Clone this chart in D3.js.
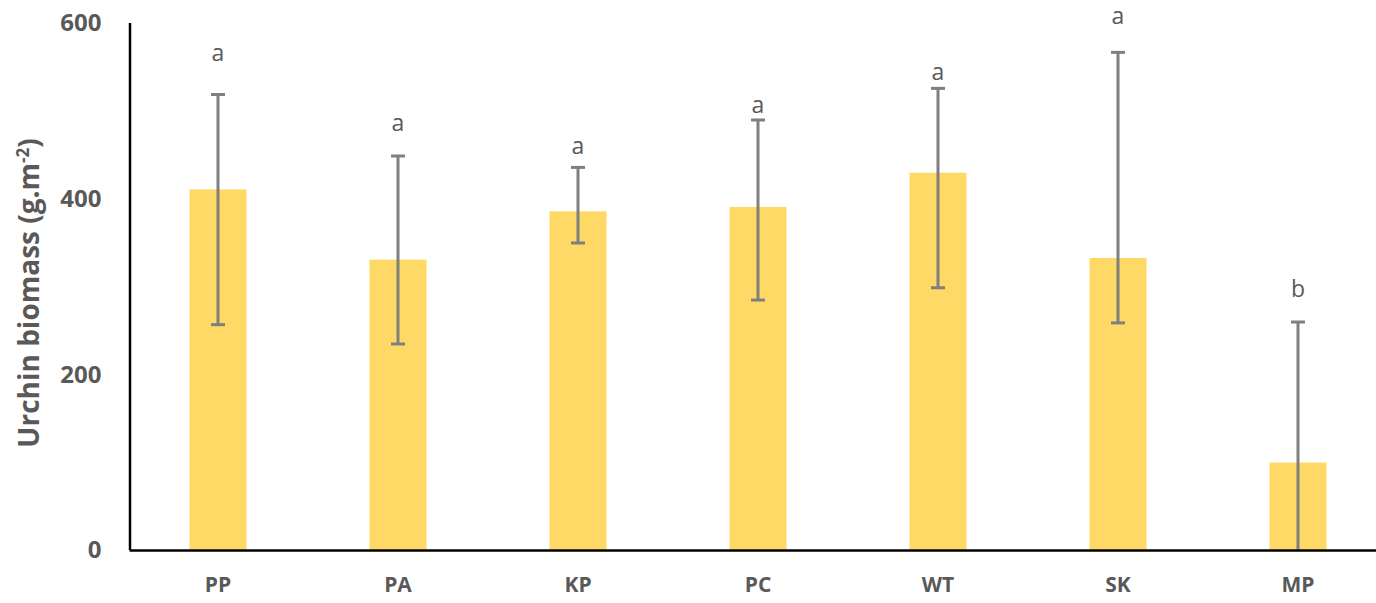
<!DOCTYPE html>
<html>
<head>
<meta charset="utf-8">
<script src="https://cdn.jsdelivr.net/npm/d3@7"></script>
<style>
  html, body { margin: 0; padding: 0; background: #fff; }
  svg { display: block; }
</style>
</head>
<body>
<svg id="chart" width="1376" height="603"></svg>
<script>
// Urchin biomass by site, mean with error range and significance groups
const sites = ["PP", "PA", "KP", "PC", "WT", "SK", "MP"];
const biomass = [410, 330, 385, 390, 429, 332, 99];
const errLow = [256, 234, 349, 284, 298, 258, 0];
const errHigh = [518, 448, 435, 489, 525, 566, 259];
const groupLetters = ["a", "a", "a", "a", "a", "a", "b"];
const letterAt = [556, 476, 450, 497, 535, 598, 287];
const yTicks = [0, 200, 400, 600];

const svg = d3.select("#chart");
const plotLeft = 129.5, plotRight = 1388, plotTop = 22.5, plotBottom = 549.5;

const x = d3.scaleBand().domain(sites).range([128, 1388]).paddingInner(0.683).paddingOuter(0.3415);
const y = d3.scaleLinear().domain([0, 600]).range([plotBottom, plotTop]);

const textGrey = "#595959";
const font = "'Open Sans', 'Liberation Sans', sans-serif";

// bars
svg.append("g").selectAll("rect").data(sites).join("rect")
  .attr("x", d => x(d))
  .attr("width", x.bandwidth())
  .attr("y", (d, i) => y(biomass[i]))
  .attr("height", (d, i) => y(0) - y(biomass[i]))
  .attr("fill", "#FFD966");

// error bars
const eg = svg.append("g").attr("stroke", "#7f7f7f").attr("stroke-width", 3);
sites.forEach((s, i) => {
  const cx = x(s) + x.bandwidth() / 2;
  eg.append("line").attr("x1", cx).attr("x2", cx).attr("y1", y(errHigh[i])).attr("y2", y(errLow[i]));
  eg.append("line").attr("x1", cx - 7).attr("x2", cx + 7).attr("y1", y(errHigh[i])).attr("y2", y(errHigh[i]));
  if (errLow[i] > 0) {
    eg.append("line").attr("x1", cx - 7).attr("x2", cx + 7).attr("y1", y(errLow[i])).attr("y2", y(errLow[i]));
  }
});

// significance letters
svg.append("g").selectAll("text").data(sites).join("text")
  .attr("x", d => x(d) + x.bandwidth() / 2)
  .attr("y", (d, i) => y(letterAt[i]))
  .attr("text-anchor", "middle")
  .attr("font-family", font)
  .attr("font-size", 23)
  .attr("fill", textGrey)
  .text((d, i) => groupLetters[i]);

// y axis
const yAxis = svg.append("g").attr("transform", `translate(${plotLeft},0)`)
  .call(d3.axisLeft(y).tickValues(yTicks).tickSize(0).tickPadding(28));
yAxis.select(".domain").attr("stroke", "#000").attr("stroke-width", 2.5);
yAxis.selectAll("text")
  .attr("font-family", font).attr("font-size", 24).attr("font-weight", "bold")
  .attr("fill", textGrey).attr("dy", "0.34em");

// x axis
const xAxis = svg.append("g").attr("transform", `translate(0,${plotBottom + 1})`)
  .call(d3.axisBottom(x).tickSize(0).tickPadding(27));
xAxis.select(".domain").attr("stroke", "#000").attr("stroke-width", 2.5)
  .attr("d", `M${plotLeft},0H${plotRight}`);
xAxis.selectAll("text")
  .attr("font-family", font).attr("font-size", 21).attr("font-weight", "bold")
  .attr("fill", textGrey);

// y axis title
const title = svg.append("text")
  .attr("transform", `translate(39,${(138 + 448) / 2}) rotate(-90)`)
  .attr("text-anchor", "middle")
  .attr("font-family", font).attr("font-size", 28).attr("font-weight", "bold")
  .attr("fill", textGrey);
title.append("tspan").text("Urchin biomass (g.m");
title.append("tspan").attr("font-size", 17).attr("dy", -10).text("-2");
title.append("tspan").attr("dy", 10).text(")");
</script>
</body>
</html>
